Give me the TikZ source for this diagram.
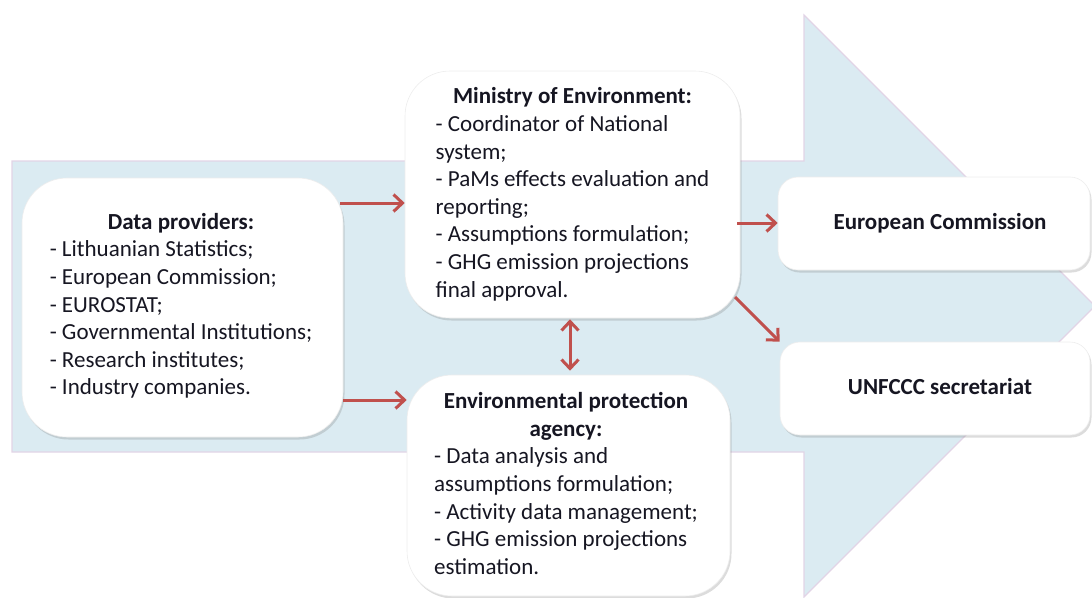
\documentclass[tikz,border=0pt]{standalone}
\usepackage{fontspec}
\setmainfont{Carlito}
\usetikzlibrary{arrows.meta,shadows}
\definecolor{flowfill}{RGB}{219,235,242}
\definecolor{flowedge}{RGB}{226,212,230}
\definecolor{linkred}{RGB}{192,80,77}
\definecolor{inktext}{RGB}{22,22,34}

\begin{document}
\begin{tikzpicture}[x=1pt,y=-1pt,
  box/.style={draw=black!7, line width=0.6pt, fill=white, inner sep=0pt,
    rounded corners=#1,
    drop shadow={shadow xshift=1.5pt, shadow yshift=-2.5pt, opacity=0.28}},
  box/.default=45pt,
  txt/.style={inner sep=0pt, text=inktext, font=\fontsize{23}{27.6}\selectfont},
  conn/.style={draw=linkred, line width=3pt, -{Straight Barb[length=9pt,width=17pt]}},
  dconn/.style={draw=linkred, line width=3pt,
    {Straight Barb[length=9pt,width=17pt]}-{Straight Barb[length=9pt,width=17pt]}}
]
\useasboundingbox (0,0) rectangle (1092,597);

% broad process arrow in the background
\filldraw[fill=flowfill, draw=flowedge, line width=1.2pt]
  (12,161) -- (804,161) -- (804,15) -- (1095,306) -- (804,597)
  -- (804,452) -- (12,452) -- cycle;

% boxes
\node[box, minimum width=321pt, minimum height=259pt] (dp) at (182.5,307.5) {};
\node[box, minimum width=335pt, minimum height=247pt] (mo) at (572.5,194.5) {};
\node[box, minimum width=323pt, minimum height=221pt] (ep) at (568.5,485.5) {};
\node[box=20pt, minimum width=312pt, minimum height=93pt] (ec) at (934,223.5) {};
\node[box=20pt, minimum width=310pt, minimum height=93pt] (un) at (935,388.5) {};

% box texts
\node[txt] (dpt) at (181,306.5) {\begin{tabular}{@{}l@{}}
  \multicolumn{1}{@{}c@{}}{\bfseries Data providers:}\\
  - Lithuanian Statistics;\\
  - European Commission;\\
  - EUROSTAT;\\
  - Governmental Institutions;\\
  - Research institutes;\\
  - Industry companies.
\end{tabular}};
\node[txt] (mot) at (572.5,195) {\begin{tabular}{@{}l@{}}
  \multicolumn{1}{@{}c@{}}{\bfseries Ministry of Environment:}\\
  - Coordinator of National\\
  system;\\
  - PaMs effects evaluation and\\
  reporting;\\
  - Assumptions formulation;\\
  - GHG emission projections\\
  final approval.
\end{tabular}};
\node[txt] (ept) at (566,486) {\begin{tabular}{@{}l@{}}
  \multicolumn{1}{@{}c@{}}{\bfseries Environmental protection}\\
  \multicolumn{1}{@{}c@{}}{\bfseries agency:}\\
  - Data analysis and\\
  assumptions formulation;\\
  - Activity data management;\\
  - GHG emission projections\\
  estimation.
\end{tabular}};
\node[txt, font=\fontsize{23}{27.6}\selectfont\bfseries] (ect) at (940,223) {European Commission};
\node[txt, font=\fontsize{23}{27.6}\selectfont\bfseries] (unt) at (940,387) {UNFCCC secretariat};

% connectors
\coordinate (a1) at (340,203);
\coordinate (a2) at (343,400);
\coordinate (a3) at (570,0);
\coordinate (a4) at (737,223);
\coordinate (a5) at (735,297);
\draw[conn] (a1) -- (a1 -| mo.west);
\draw[conn] (a2) -- (a2 -| ep.west);
\draw[dconn, shorten <=1pt, shorten >=4pt] (a3 |- mo.south) -- (a3 |- ep.north);
\draw[conn] (a4) -- (a4 -| ec.west);
\draw[conn] (a5) -- (un.north west);
\end{tikzpicture}
\end{document}
